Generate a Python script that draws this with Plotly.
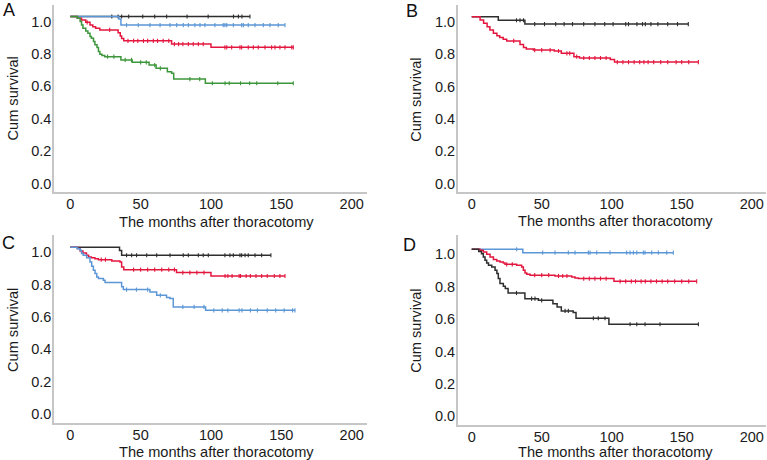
import plotly.graph_objects as go

# ---------------- data (months, cumulative survival) ----------------
A_black_t = []
A_black_s = []
A_black_end = 127.7
A_black_c = [29.5, 34, 36.5, 41.5, 51.5, 60, 68.5, 83, 98, 116, 119.5, 122]

A_blue_t = [34.5, 36]
A_blue_s = [0.985, 0.947]
A_blue_end = 152.6
A_blue_c = [40, 48.3, 56.6, 63.8, 70.9, 75.6, 80.3, 83.9, 88.6, 92.2, 95.7, 102.8, 108.7,
            109.9, 111.2, 115.9, 121.8, 123, 126.5, 131.3, 137.2, 141.9, 147.8]

A_red_t = [5, 8, 11, 14, 16, 18, 21, 34, 35.5, 36.5, 38, 72, 100]
A_red_s = [0.989, 0.978, 0.964, 0.948, 0.937, 0.927, 0.917, 0.90, 0.88, 0.865, 0.85, 0.83, 0.81]
A_red_end = 158.5
A_red_c = [12, 28, 41, 45, 48, 52, 55, 59, 62, 66, 70, 74, 77, 80, 83.9, 87.4, 91, 94.5, 109.9,
           111.2, 114.7, 120.6, 121.8, 126.5, 130.1, 133.6, 138.4, 143.1, 145.5, 149, 152.6, 157.4]

A_green_t = [5, 7, 8, 9, 11, 12.5, 14, 15, 16.5, 17.5, 19, 20, 21, 22.5, 24.5, 36, 44, 56, 61,
             69, 72, 73.5, 96]
A_green_s = [0.989, 0.969, 0.948, 0.927, 0.911, 0.897, 0.876, 0.866, 0.845, 0.825, 0.808, 0.784,
             0.767, 0.759, 0.752, 0.732, 0.717, 0.70, 0.68, 0.659, 0.649, 0.614, 0.588]
A_green_end = 158.5
A_green_c = [26.5, 31, 39, 43.5, 50, 54, 60, 64, 85, 92, 101, 110, 113, 121, 127.5, 132.5, 147.5]

B_black_t = [19, 38]
B_black_s = [0.978, 0.954]
B_black_end = 154.7
B_black_c = [32, 34.5, 37, 45, 52, 60, 66, 72, 80, 88, 95, 101, 110, 112, 118, 122, 124, 128,
             133, 140, 147]

B_red_t = [6, 8.5, 11, 13, 15.5, 18, 20, 22.5, 25, 34.5, 37, 39, 44, 59, 64, 73, 77, 99, 102]
B_red_s = [0.98, 0.959, 0.938, 0.918, 0.897, 0.883, 0.872, 0.86, 0.85, 0.829, 0.809, 0.80, 0.794,
           0.788, 0.774, 0.753, 0.745, 0.735, 0.72]
B_red_end = 161.9
B_red_c = [30, 45, 50, 56, 62, 68, 70, 75, 80, 84, 88, 92, 96, 104, 108, 112, 116, 120, 123, 126,
           130, 135, 140, 146, 150, 155]

C_black_t = [35, 36.5]
C_black_s = [0.98, 0.95]
C_black_end = 142.6
C_black_c = [40, 43.6, 47.1, 54.3, 61.4, 70.9, 80.3, 83.9, 91, 94.5, 98.1, 109.9, 113.5, 115.9,
             120.6, 121.8, 124.2, 126.5, 131.3, 136]

C_red_t = [5, 7, 9, 11.5, 13, 15, 17.5, 20, 29.5, 35.3, 36.5, 38, 75.5, 100]
C_red_s = [0.991, 0.977, 0.964, 0.95, 0.94, 0.935, 0.929, 0.923, 0.915, 0.909, 0.878, 0.861,
           0.843, 0.822]
C_red_end = 152.6
C_red_c = [22, 25, 45, 50, 55, 60, 65, 70, 74, 80, 85, 90, 95, 110, 112, 115, 120, 121, 125, 128,
           132, 136, 140, 145, 149]

C_blue_t = [5, 7, 8, 9.2, 11.6, 14, 15.2, 16.4, 17.6, 18.8, 20, 23.5, 24.7, 36.5, 37.7, 56.6,
            61.4, 68.4, 70.8, 73.2, 96.2]
C_blue_s = [0.99, 0.981, 0.961, 0.95, 0.935, 0.909, 0.882, 0.857, 0.837, 0.816, 0.806, 0.796,
            0.782, 0.755, 0.738, 0.724, 0.703, 0.689, 0.683, 0.631, 0.61]
C_blue_end = 159.7
C_blue_c = [40, 47, 55, 64, 80, 88, 95, 102, 108, 112, 120, 122, 128, 133, 140, 146, 152, 158]

D_blue_t = [36.5]
D_blue_s = [0.979]
D_blue_end = 144
D_blue_c = [32.1, 50.7, 59.5, 69, 73.8, 83.3, 84.5, 89.3, 98.8, 110.7, 113.1, 115.5, 117.9,
            122.6, 123.8, 128.6, 133.3, 139.3]

D_red_t = [5.9, 8.3, 10.7, 13.1, 15.5, 17.9, 20.2, 22.6, 23.8, 32.1, 35.7, 36.9, 38.1, 39.3,
           41.7, 59.5, 71.4, 73.8, 76.2, 101.6]
D_red_s = [0.994, 0.983, 0.969, 0.952, 0.936, 0.928, 0.922, 0.915, 0.907, 0.901, 0.891, 0.870,
           0.854, 0.846, 0.840, 0.835, 0.829, 0.823, 0.819, 0.802]
D_red_end = 160.7
D_red_c = [25, 29, 45, 50, 55, 62, 65, 68, 80, 84, 88, 92, 96, 106, 110, 114, 117, 121, 124, 128,
           132, 136, 140, 145, 150, 155]

D_black_t = [5, 7, 8.3, 9.5, 10.7, 12, 14.3, 16.7, 18, 19, 20.2, 22.6, 24, 26, 38, 47.6, 58, 61,
             64, 72.5, 74.5, 98]
D_black_s = [0.986, 0.973, 0.952, 0.932, 0.915, 0.901, 0.891, 0.870, 0.850, 0.819, 0.788, 0.772,
             0.757, 0.730, 0.695, 0.685, 0.664, 0.644, 0.619, 0.610, 0.574, 0.537]
D_black_end = 161.9
D_black_c = [32, 42.8, 45.2, 50, 66.7, 69, 86.9, 90.4, 95.2, 113.1, 117.9, 123.8, 134.5]

x_ticks = [0, 50, 100, 150, 200]
y_ticks = [0.0, 0.2, 0.4, 0.6, 0.8, 1.0]
panel_letters = ["A", "B", "C", "D"]
x_title = "The months after thoracotomy"
y_title = "Cum survival"

# ---------------- styles ----------------
BLACK = "#2e2e2e"
BLUE = "#5b97d6"
RED = "#e3173e"
GREEN = "#3c963a"
AXIS = "#c6c6c6"
FONT = "Liberation Sans, Arial, sans-serif"

W, H = 767, 460

panels = {
    "A": dict(ax="", x0=54, x1=367, top=5, bottom=192.3, xr=[-11.58, 210.9], yr=[-0.085, 1.071],
              curves=[(A_black_t, A_black_s, A_black_end, A_black_c, BLACK),
                      (A_blue_t, A_blue_s, A_blue_end, A_blue_c, BLUE),
                      (A_red_t, A_red_s, A_red_end, A_red_c, RED),
                      (A_green_t, A_green_s, A_green_end, A_green_c, GREEN)]),
    "B": dict(ax="2", x0=457.7, x1=766, top=5, bottom=192, xr=[-10, 210.2], yr=[-0.082, 1.072],
              curves=[(B_black_t, B_black_s, B_black_end, B_black_c, BLACK),
                      (B_red_t, B_red_s, B_red_end, B_red_c, RED)]),
    "C": dict(ax="3", x0=54, x1=367, top=235, bottom=422.7, xr=[-11.58, 210.9], yr=[-0.083, 1.075],
              curves=[(C_black_t, C_black_s, C_black_end, C_black_c, BLACK),
                      (C_red_t, C_red_s, C_red_end, C_red_c, RED),
                      (C_blue_t, C_blue_s, C_blue_end, C_blue_c, BLUE)]),
    "D": dict(ax="4", x0=457.7, x1=766, top=235, bottom=425, xr=[-10, 210.2], yr=[-0.085, 1.088],
              curves=[(D_blue_t, D_blue_s, D_blue_end, D_blue_c, BLUE),
                      (D_red_t, D_red_s, D_red_end, D_red_c, RED),
                      (D_black_t, D_black_s, D_black_end, D_black_c, BLACK)]),
}


def px(x):
    return x / W


def py(y):
    return 1 - y / H


def step_value(times, surv, t):
    v = 1.0
    for ti, si in zip(times, surv):
        if ti <= t:
            v = si
    return v


fig = go.Figure()
layout = {}
annotations = []
letter_pos = {"A": (8.5, 10), "B": (411.7, 11), "C": (8.5, 243.3), "D": (410, 245)}
ytitle_pos = {"A": (12.5, 99), "B": (415.8, 100), "C": (12.5, 330.5), "D": (415.8, 331)}
xtitle_pos = {"A": (216.7, 221.7), "B": (615.7, 221.5), "C": (216.7, 451.5), "D": (615.7, 452)}

for name, p in panels.items():
    ax = p["ax"]
    xa, ya = "x" + ax, "y" + ax
    for times, surv, end, cens, color in p["curves"]:
        xs = [0] + list(times) + [end]
        ys = [1.0] + list(surv) + [surv[-1] if surv else 1.0]
        fig.add_trace(go.Scatter(x=xs, y=ys, mode="lines", line=dict(color=color, width=1.5, shape="hv"),
                                 xaxis=xa, yaxis=ya, showlegend=False, hoverinfo="skip"))
        cx = list(cens) + [end]
        cy = [step_value(times, surv, c) for c in cx]
        fig.add_trace(go.Scatter(x=cx, y=cy, mode="markers",
                                 marker=dict(symbol="line-ns", size=3, line=dict(color=color, width=1.1)),
                                 xaxis=xa, yaxis=ya, showlegend=False, hoverinfo="skip"))
    xkey = "xaxis" + ax
    ykey = "yaxis" + ax
    layout[xkey] = dict(domain=[px(p["x0"]), px(p["x1"])], range=p["xr"], anchor=ya, automargin=False,
                        showline=True, linecolor=AXIS, linewidth=1.5, showgrid=False, zeroline=False,
                        ticks="", tickvals=x_ticks, ticklabelstandoff=-2,
                        tickfont=dict(family=FONT, size=14.5, color="#1a1a1a"), fixedrange=True)
    layout[ykey] = dict(domain=[py(p["bottom"]), py(p["top"])], range=p["yr"], anchor=xa,
                        automargin=False,
                        showline=True, linecolor=AXIS, linewidth=1.5, showgrid=False, zeroline=False,
                        ticks="", tickvals=y_ticks, tickformat=".1f", ticklabelshift=5,
                        ticklabelstandoff=-2,
                        tickfont=dict(family=FONT, size=14.5, color="#1a1a1a"), fixedrange=True)
    lx, ly = letter_pos[name]
    annotations.append(dict(x=px(lx), y=py(ly), xref="paper", yref="paper", text=name,
                            showarrow=False, xanchor="center", yanchor="middle",
                            font=dict(family=FONT, size=18, color="#111")))
    tx, ty = ytitle_pos[name]
    annotations.append(dict(x=px(tx), y=py(ty), xref="paper", yref="paper", text=y_title,
                            showarrow=False, xanchor="center", yanchor="middle", textangle=-90,
                            font=dict(family=FONT, size=14.6, color="#1a1a1a")))
    tx, ty = xtitle_pos[name]
    annotations.append(dict(x=px(tx), y=py(ty), xref="paper", yref="paper", text=x_title,
                            showarrow=False, xanchor="center", yanchor="middle",
                            font=dict(family=FONT, size=14.6, color="#1a1a1a")))

fig.update_layout(width=W, height=H, margin=dict(l=0, r=0, t=0, b=0),
                  paper_bgcolor="white", plot_bgcolor="white", annotations=annotations, **layout)

fig.write_html("out.html", config={"displayModeBar": False},
               post_script="document.body.style.margin='0px';document.body.style.overflow='hidden';")
